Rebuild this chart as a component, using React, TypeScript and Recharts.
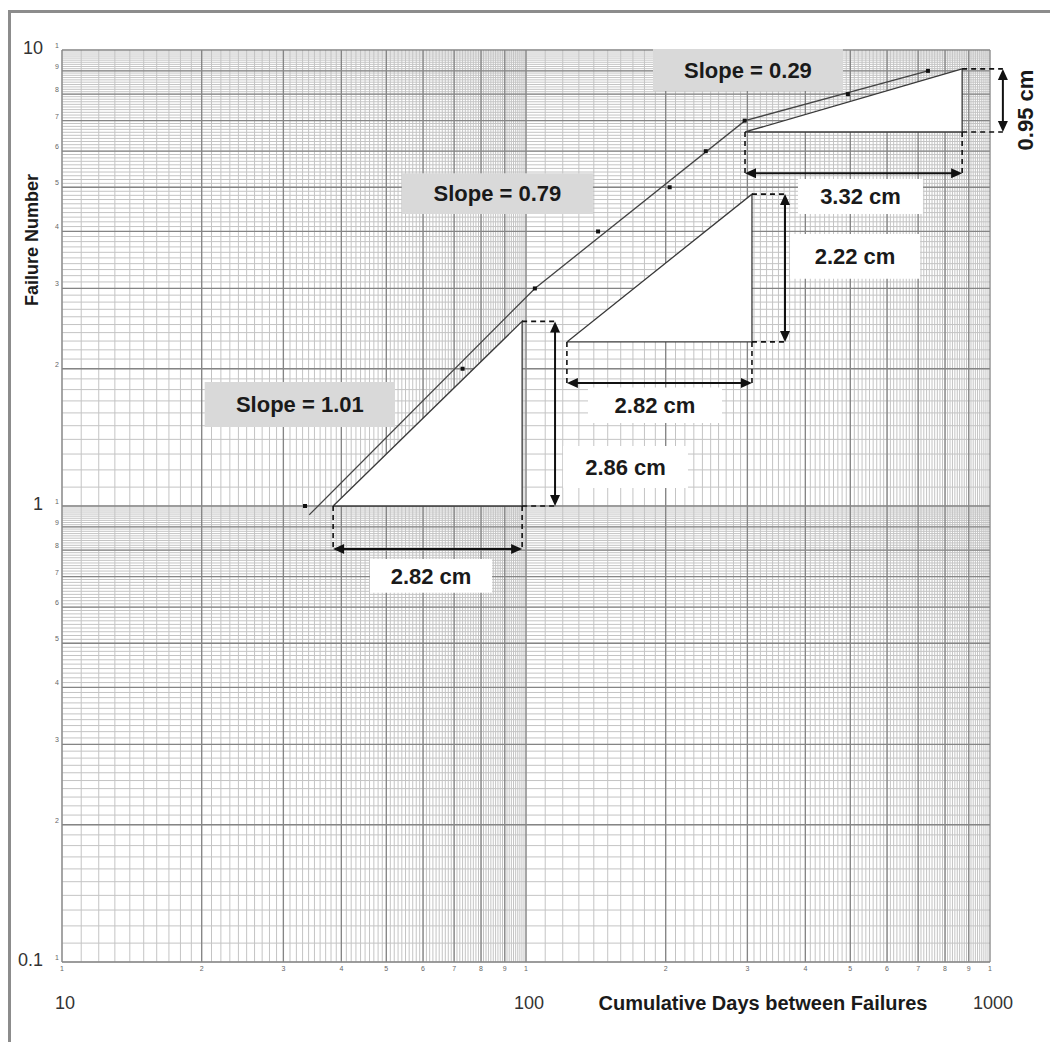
import React from "react";
import {
  ComposedChart,
  XAxis,
  YAxis,
  CartesianGrid,
  Line,
  Area,
  Scatter,
  ReferenceLine,
  ReferenceArea,
} from "recharts";

const FONT = "'Liberation Sans', Arial, Helvetica, sans-serif";

// observed failures
const failureNumber = [1, 2, 3, 4, 5, 6, 7, 8, 9];
const cumulativeDays = [33.4, 73, 104.5, 143, 204, 244, 296, 494, 735];

// piecewise fitted line
const fitDays = [34.1, 104.5, 296.5, 735];
const fitFailures = [0.956, 3, 7, 9];

// log paper ticks
const xTicks = [10, 20, 30, 40, 50, 60, 70, 80, 90, 100, 200, 300, 400, 500, 600, 700, 800, 900, 1000];
const yTicks = [0.1, 0.2, 0.3, 0.4, 0.5, 0.6, 0.7, 0.8, 0.9, 1, 2, 3, 4, 5, 6, 7, 8, 9, 10];
const xDecadeLabels = [10, 100, 1000];
const yDecadeLabels = [0.1, 1, 10];
const xDecades = [10, 100];
const yDecades = [0.1, 1];
const paperSteps = Array.from({ length: 90 }, (_, i) => 1 + i / 10);

// slope triangles: [left, right] days, [bottom, top] failures
const triangleDays = [[38.4, 98.1], [122.5, 306.9], [296.5, 870.9]];
const triangleFailures = [[1.0, 2.54], [2.29, 4.83], [6.61, 9.09]];
const runArrowFailures = [0.805, 1.86, 5.37];
const riseArrowDays = [115.5, 361.6, 1066];

// annotation boxes
const slopeLabels = ["Slope = 1.01", "Slope = 0.79", "Slope = 0.29"];
const slopeBoxDays = [[20.3, 52.2], [54.0, 139.4], [187.8, 482]];
const slopeBoxFailures = [[1.49, 1.87], [4.37, 5.37], [8.13, 10.05]];
const runLabels = ["2.82 cm", "2.82 cm", "3.32 cm"];
const runBoxDays = [[46.1, 84.5], [136.0, 264.5], [385.6, 717.3]];
const runBoxFailures = [[0.645, 0.765], [1.52, 1.82], [4.37, 5.21]];
const riseLabels = ["2.86 cm", "2.22 cm", "0.95 cm"];
const riseBoxDays = [[120.2, 223.4], [370.7, 706.8], [1115, 1269]];
const riseBoxFailures = [[1.095, 1.354], [3.15, 3.95], [6.0, 9.09]];

const scatterData = cumulativeDays.map((d, i) => ({ x: d, y: failureNumber[i] }));
const fitData = fitDays.map((d, i) => ({ x: d, y: fitFailures[i] }));

const round = (v: number) => Math.round(v * 10000) / 10000;
const minorX = xDecades.flatMap((d) => paperSteps.map((m) => round(m * d)));
const minorY = yDecades.flatMap((d) => paperSteps.map((m) => round(m * d)));

function leadDigit(v: number) {
  const e = Math.floor(Math.log10(v) + 1e-9);
  return String(Math.round(v / Math.pow(10, e)));
}

function YTick(props: any) {
  const { x, y, payload } = props;
  const v = payload.value;
  return (
    <g fontFamily={FONT}>
      <text x={x} y={y - 2} textAnchor="end" fontSize={7} fill="#666">
        {leadDigit(v)}
      </text>
      {yDecadeLabels.includes(v) && (
        <text x={x - 16} y={y + 4} textAnchor="end" fontSize={18} fill="#333">
          {String(v)}
        </text>
      )}
    </g>
  );
}

function XTick(props: any) {
  const { x, y, payload } = props;
  const v = payload.value;
  return (
    <g fontFamily={FONT}>
      <text x={x} y={y + 6} textAnchor="middle" fontSize={7} fill="#666">
        {leadDigit(v)}
      </text>
      {xDecadeLabels.includes(v) && (
        <text x={x + 3} y={y + 44} textAnchor="middle" fontSize={18} fill="#333">
          {String(v)}
        </text>
      )}
    </g>
  );
}

function XTitle() {
  return (
    <text x={763} y={1010} textAnchor="middle" fontSize={20} fontWeight={700} fill="#1a1a1a" fontFamily={FONT}>
      Cumulative Days between Failures
    </text>
  );
}

function YTitle() {
  return (
    <text
      x={32}
      y={240}
      textAnchor="middle"
      dominantBaseline="central"
      transform="rotate(-90 32 240)"
      fontSize={18}
      fontWeight={700}
      fill="#1a1a1a"
      fontFamily={FONT}
    >
      Failure Number
    </text>
  );
}

function DoubleArrow(props: any) {
  const { x1, y1, x2, y2 } = props;
  const dx = x2 - x1;
  const dy = y2 - y1;
  const len = Math.hypot(dx, dy) || 1;
  const ux = dx / len;
  const uy = dy / len;
  const hl = 11;
  const hw = 5;
  const head = (tx: number, ty: number, dir: number) => {
    const bx = tx - dir * ux * hl;
    const by = ty - dir * uy * hl;
    return `${tx},${ty} ${bx - uy * hw},${by + ux * hw} ${bx + uy * hw},${by - ux * hw}`;
  };
  return (
    <g>
      <line x1={x1 + ux * 6} y1={y1 + uy * 6} x2={x2 - ux * 6} y2={y2 - uy * 6} stroke="#111" strokeWidth={2} />
      <polygon points={head(x1, y1, -1)} fill="#111" />
      <polygon points={head(x2, y2, 1)} fill="#111" />
    </g>
  );
}

function Dot(props: any) {
  const { cx, cy } = props;
  return <rect x={cx - 2} y={cy - 2} width={4} height={4} fill="#111" />;
}

const dash = { stroke: "#111", strokeWidth: 1.6, strokeDasharray: "5 4", ifOverflow: "visible" as const };
const boxLabel = { position: "center" as const, fontSize: 22, fontWeight: 700, fill: "#1a1a1a", fontFamily: FONT };

export default function App() {
  return (
    <div style={{ position: "absolute", left: 0, top: 0, width: 1050, height: 1042, background: "#fff", overflow: "hidden" }}>
      <div
        style={{
          position: "absolute",
          left: 8,
          top: 10,
          width: 1060,
          height: 1060,
          borderLeft: "3px solid #8c8c8c",
          borderTop: "3px solid #8c8c8c",
        }}
      />
      <div style={{ position: "absolute", left: 0, top: 0 }}>
        <ComposedChart width={1050} height={1042} margin={{ top: 50, right: 60, bottom: 50, left: 22 }}>
          <CartesianGrid horizontalValues={minorY} verticalValues={minorX} stroke="#c4c4c4" strokeWidth={1} />
          <CartesianGrid horizontalValues={yTicks} verticalValues={xTicks} stroke="#858585" strokeWidth={1.3} />
          <XAxis
            type="number"
            dataKey="x"
            scale="log"
            domain={[10, 1000]}
            ticks={xTicks}
            interval={0}
            allowDataOverflow
            axisLine={false}
            tickLine={false}
            tickSize={0}
            tickMargin={3}
            height={30}
            tick={<XTick />}
            label={() => <XTitle />}
          />
          <YAxis
            type="number"
            dataKey="y"
            scale="log"
            domain={[0.1, 10]}
            ticks={yTicks}
            interval={0}
            allowDataOverflow
            axisLine={false}
            tickLine={false}
            tickSize={0}
            tickMargin={3}
            width={40}
            tick={<YTick />}
            label={() => <YTitle />}
          />

          {triangleDays.map(([xl, xr], i) => {
            const [yb, yt] = triangleFailures[i];
            return (
              <Area
                key={`tri-fill-${i}`}
                data={[{ x: xl, y: yb }, { x: xr, y: yt }]}
                dataKey="y"
                type="linear"
                baseValue={yb}
                fill="#fff"
                fillOpacity={1}
                stroke="none"
                isAnimationActive={false}
              />
            );
          })}
          {triangleDays.map(([xl, xr], i) => {
            const [yb, yt] = triangleFailures[i];
            return (
              <Line
                key={`tri-edge-${i}`}
                data={[{ x: xl, y: yb }, { x: xr, y: yb }, { x: xr, y: yt }, { x: xl, y: yb }]}
                dataKey="y"
                type="linear"
                stroke="#3a3a3a"
                strokeWidth={1.3}
                dot={false}
                isAnimationActive={false}
              />
            );
          })}

          {triangleDays.map(([xl, xr], i) => {
            const [yb, yt] = triangleFailures[i];
            const ya = runArrowFailures[i];
            const xa = riseArrowDays[i];
            return (
              <React.Fragment key={`dim-${i}`}>
                <ReferenceLine segment={[{ x: xl, y: yb }, { x: xl, y: ya }]} {...dash} />
                <ReferenceLine segment={[{ x: xr, y: yb }, { x: xr, y: ya }]} {...dash} />
                <ReferenceLine segment={[{ x: xr, y: yb }, { x: xa, y: yb }]} {...dash} />
                <ReferenceLine segment={[{ x: xr, y: yt }, { x: xa, y: yt }]} {...dash} />
                <ReferenceLine
                  segment={[{ x: xl, y: ya }, { x: xr, y: ya }]}
                  ifOverflow="visible"
                  shape={(p: any) => <DoubleArrow {...p} />}
                />
                <ReferenceLine
                  segment={[{ x: xa, y: yb }, { x: xa, y: yt }]}
                  ifOverflow="visible"
                  shape={(p: any) => <DoubleArrow {...p} />}
                />
              </React.Fragment>
            );
          })}

          {slopeLabels.map((t, i) => (
            <ReferenceArea
              key={`slope-${i}`}
              x1={slopeBoxDays[i][0]}
              x2={slopeBoxDays[i][1]}
              y1={slopeBoxFailures[i][0]}
              y2={slopeBoxFailures[i][1]}
              fill="#d9d9d9"
              fillOpacity={1}
              stroke="none"
              ifOverflow="visible"
              label={{ value: t, ...boxLabel }}
            />
          ))}
          {runLabels.map((t, i) => (
            <ReferenceArea
              key={`run-${i}`}
              x1={runBoxDays[i][0]}
              x2={runBoxDays[i][1]}
              y1={runBoxFailures[i][0]}
              y2={runBoxFailures[i][1]}
              fill="#fff"
              fillOpacity={1}
              stroke="none"
              ifOverflow="visible"
              label={{ value: t, ...boxLabel }}
            />
          ))}
          {riseLabels.map((t, i) => (
            <ReferenceArea
              key={`rise-${i}`}
              x1={riseBoxDays[i][0]}
              x2={riseBoxDays[i][1]}
              y1={riseBoxFailures[i][0]}
              y2={riseBoxFailures[i][1]}
              fill="#fff"
              fillOpacity={1}
              stroke="none"
              ifOverflow="visible"
              label={{ value: t, ...boxLabel, angle: i === 2 ? -90 : 0 }}
            />
          ))}

          <Line
            data={fitData}
            dataKey="y"
            type="linear"
            stroke="#444"
            strokeWidth={1.3}
            dot={false}
            isAnimationActive={false}
          />
          <Scatter data={scatterData} shape={<Dot />} isAnimationActive={false} />
        </ComposedChart>
      </div>
    </div>
  );
}
